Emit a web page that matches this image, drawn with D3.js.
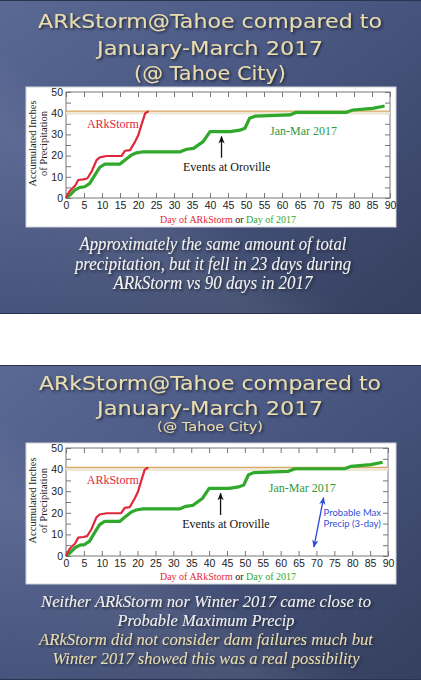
<!DOCTYPE html>
<html><head><meta charset="utf-8">
<script src="https://cdn.jsdelivr.net/npm/d3@7"></script>
<style>html,body{margin:0;padding:0;background:#fff;}svg{display:block;}</style>
</head><body><svg id="c" width="421" height="680"></svg>
<script>
// ---- data ----
const dayTicks = [0,5,10,15,20,25,30,35,40,45,50,55,60,65,70,75,80,85,90];
const inchTicks = [0,10,20,30,40,50];
const inchMinorTicks = [0,5,10,15,20,25,30,35,40,45,50];
const arkDays   = [0,0.9,1.8,2.5,3.4,4.8,5.9,7.1,8.5,9.4,11.3,15.4,16.4,17.8,19.2,20.1,21.1,22,23];
const arkPrecip = [0,3,4.6,5.7,8.5,8.8,9.2,12.4,17.9,19.2,19.8,19.8,22.3,22.6,26.6,29.7,35.2,40,41];
const janDays   = [0,1.1,2.5,3.9,5.2,6.6,8.0,9.4,10.8,15,16.4,18.2,19.6,21.5,31.7,33.5,35.4,38.1,40,45.6,48.3,49.7,51,52.5,62.2,64,77.9,79.7,85.2,88.5];
const janPrecip = [0,1.4,3.8,5.0,5.3,6.9,10.8,14.5,16,16,17.9,20.3,21.3,21.8,21.8,23,23.4,26.6,31.3,31.3,32,32.9,37.6,38.6,39.2,40.4,40.4,41.5,42.3,43.4];
const totalLine = 41;
const orovilleArrow = {day:43.2, from:19, to:29};
const pmpDays = [69.3,72];
const pmpValues = [4.2,27];
const titleLines = ["ARkStorm@Tahoe compared to","January-March 2017","(@ Tahoe City)"];
const note1 = ["Approximately the same amount of total","precipitation, but it fell in 23 days during","ARkStorm vs 90 days in 2017"];
const note2 = ["Neither ARkStorm nor Winter 2017 came close to","Probable Maximum Precip","ARkStorm did not consider dam failures much but","Winter 2017 showed this was a real possibility"];

const svg = d3.select('#c');
const defs = svg.append('defs');
const bg = defs.append('linearGradient').attr('id','bg').attr('x1',0).attr('y1',0).attr('x2',1).attr('y2',1);
[[0,'#5a6994'],[0.35,'#4c5a86'],[0.7,'#3f4b70'],[1,'#353f5e']].forEach(s=>bg.append('stop').attr('offset',s[0]).attr('stop-color',s[1]));
const st = defs.append('linearGradient').attr('id','streak').attr('x1',0).attr('y1',1).attr('x2',1).attr('y2',0);
[[0,0],[0.3,0.07],[0.42,0],[1,0]].forEach(s=>st.append('stop').attr('offset',s[0]).attr('stop-color','#fff').attr('stop-opacity',s[1]));
const sh = defs.append('filter').attr('id','sh').attr('x','-10%').attr('y','-30%').attr('width','120%').attr('height','160%');
sh.append('feDropShadow').attr('dx',1.5).attr('dy',1.5).attr('stdDeviation',1.2).attr('flood-color','#151a2c').attr('flood-opacity',0.85);
function marker(id,color){
  defs.append('marker').attr('id',id).attr('viewBox','0 0 10 10').attr('refX',9).attr('refY',5)
   .attr('markerWidth',6).attr('markerHeight',6).attr('orient','auto-start-reverse')
   .append('path').attr('d','M0,1 L10,5 L0,9 L3,5 Z').attr('fill',color);
}
marker('ab','#111'); marker('ap','#2a48d8');

const slides = [
  {y0:0,y1:314,title:[{b:28,fs:20,w:344,t:0},{b:54.5,fs:20,w:226,t:1},{b:80,fs:19,w:152,t:2}],
   box:[26,396,87,227],plot:[66,390,92,198],xlab:207,atY:223,ytx:[32,43],
   notes:note1,nb:[250,269.5,289],nw:[267,276,199],ncx:213,nfs:18,ncol:['#f2f2f2','#f2f2f2','#f2f2f2'],pmp:false},
  {y0:365,y1:680,title:[{b:390,fs:20,w:342,t:0},{b:414.5,fs:19,w:226,t:1},{b:431,fs:12.5,w:106,t:2}],
   box:[26,396,443,584],plot:[66,388,448,556],xlab:564,atY:580,ytx:[32,43],
   notes:note2,nb:[606.7,625.7,645,664.3],nw:[330,177,334,307],ncx:206,nfs:17.5,ncol:['#f0f0f0','#f0f0f0','#e8dcb0','#e8dcb0'],pmp:true}
];

slides.forEach(s=>{
  const g = svg.append('g');
  g.append('rect').attr('x',0).attr('y',s.y0).attr('width',421).attr('height',s.y1-s.y0).attr('fill','url(#bg)');
  g.append('rect').attr('x',0).attr('y',s.y0).attr('width',421).attr('height',s.y1-s.y0).attr('fill','url(#streak)');
  g.append('line').attr('x1',0).attr('x2',421).attr('y1',s.y0+0.5).attr('y2',s.y0+0.5).attr('stroke','#2a3350');
  g.append('line').attr('x1',0).attr('x2',421).attr('y1',s.y1-0.5).attr('y2',s.y1-0.5).attr('stroke','#2a3350');
  s.title.forEach(l=>{
    g.append('text').attr('x',210).attr('y',l.b).attr('text-anchor','middle')
     .attr('font-family','DejaVu Sans').attr('font-size',l.fs).attr('fill','#e9dcae')
     .attr('textLength',l.w).attr('lengthAdjust','spacingAndGlyphs').attr('filter','url(#sh)')
     .text(titleLines[l.t]);
  });
  s.notes.forEach((t,i)=>{
    g.append('text').attr('x',s.ncx).attr('y',s.nb[i]).attr('text-anchor','middle')
     .attr('font-family','Liberation Serif').attr('font-style','italic').attr('font-size',s.nfs)
     .attr('fill',s.ncol[i]).attr('textLength',s.nw[i]).attr('lengthAdjust','spacingAndGlyphs')
     .attr('filter','url(#sh)').text(t);
  });
  drawChart(g,s);
});

function drawChart(g,s){
  const [bx0,bx1,by0,by1] = s.box, [px0,px1,py0,py1] = s.plot;
  g.append('rect').attr('x',bx0).attr('y',by0).attr('width',bx1-bx0).attr('height',by1-by0)
   .attr('fill','#fff').attr('stroke','#cfd2da');
  const x = d3.scaleLinear().domain([0,90]).range([px0,px1]);
  const y = d3.scaleLinear().domain([0,50]).range([py1,py0]);
  const axFont = sel=>{sel.select('.domain').remove();
    sel.selectAll('text').attr('font-family','Liberation Sans').attr('font-size',10.5).attr('fill','#222');
    sel.selectAll('line').attr('stroke','#777');};
  g.append('g').attr('transform',`translate(0,${py1})`)
   .call(d3.axisBottom(x).tickValues(dayTicks).tickSize(-5).tickPadding(4)).call(axFont);
  g.append('g').attr('transform',`translate(0,${py0})`)
   .call(d3.axisTop(x).tickValues(dayTicks).tickSize(-5).tickFormat('')).call(axFont);
  g.append('g').attr('transform',`translate(${px0},0)`)
   .call(d3.axisLeft(y).tickValues(inchMinorTicks).tickSize(-5).tickPadding(3)
     .tickFormat(d=>inchTicks.includes(d)?d:'')).call(axFont);
  g.append('g').attr('transform',`translate(${px1},0)`)
   .call(d3.axisRight(y).tickValues(inchMinorTicks).tickSize(-5).tickFormat('')).call(axFont);
  g.append('rect').attr('x',px0).attr('y',py0).attr('width',px1-px0).attr('height',py1-py0)
   .attr('fill','none').attr('stroke','#777').attr('stroke-width',1);
  // total line
  g.append('line').attr('x1',px0).attr('x2',px1).attr('y1',y(totalLine)+2).attr('y2',y(totalLine)+2)
   .attr('stroke','#efe7d6').attr('stroke-width',3);
  g.append('line').attr('x1',px0).attr('x2',px1).attr('y1',y(totalLine)).attr('y2',y(totalLine))
   .attr('stroke','#d9a862').attr('stroke-width',1.3);
  const line = d3.line().x(d=>x(d[0])).y(d=>y(d[1]));
  g.append('path').attr('d',line(d3.zip(janDays,janPrecip))).attr('fill','none')
   .attr('stroke','#2fa82c').attr('stroke-width',3.2).attr('stroke-linejoin','round');
  g.append('path').attr('d',line(d3.zip(arkDays,arkPrecip))).attr('fill','none')
   .attr('stroke','#e0283c').attr('stroke-width',2.2).attr('stroke-linejoin','round');
  const lab = (t,d,v,c)=>g.append('text').attr('x',x(d)).attr('y',y(v)).attr('dy','0.35em')
   .attr('font-family','Liberation Serif').attr('font-size',12).attr('fill',c).text(t);
  lab('ARkStorm',5.8,35.2,'#e0283c');
  lab('Jan-Mar 2017',56.7,31.8,'#2e9a3a');
  lab('Events at Oroville',32.5,14.8,'#111');
  g.append('line').attr('x1',x(orovilleArrow.day)).attr('x2',x(orovilleArrow.day))
   .attr('y1',y(orovilleArrow.from)).attr('y2',y(orovilleArrow.to))
   .attr('stroke','#111').attr('stroke-width',1.3).attr('marker-end','url(#ab)');
  // axis titles
  const at = g.append('text').attr('x',228).attr('y',s.atY).attr('text-anchor','middle')
   .attr('font-family','Liberation Serif').attr('font-size',10);
  at.append('tspan').attr('fill','#e0283c').text('Day of ARkStorm');
  at.append('tspan').attr('fill','#111').text(' or ');
  at.append('tspan').attr('fill','#2fa82c').text('Day of 2017');
  const yc = (py0+py1)/2 - 1.5;
  ['Accumulated Inches','of Precipitation'].forEach((t,i)=>{
    g.append('text').attr('transform',`translate(${s.ytx[i]},${yc}) rotate(-90)`).attr('dy','0.35em')
     .attr('text-anchor','middle').attr('font-family','Liberation Serif').attr('font-size',10.5)
     .attr('fill','#222').text(t);
  });
  if(s.pmp){
    g.append('line').attr('x1',x(pmpDays[0])).attr('y1',y(pmpValues[0])).attr('x2',x(pmpDays[1])).attr('y2',y(pmpValues[1]))
     .attr('stroke','#2a48d8').attr('stroke-width',1.3).attr('marker-start','url(#ap)').attr('marker-end','url(#ap)');
    ['Probable Max','Precip (3-day)'].forEach((t,i)=>{
      g.append('text').attr('x',x(72)).attr('y',y(i?14.8:20)).attr('dy','0.35em')
       .attr('font-family','Lato').attr('font-size',9.5).attr('fill','#2f4fd8').text(t);
    });
  }
}
</script></body></html>
